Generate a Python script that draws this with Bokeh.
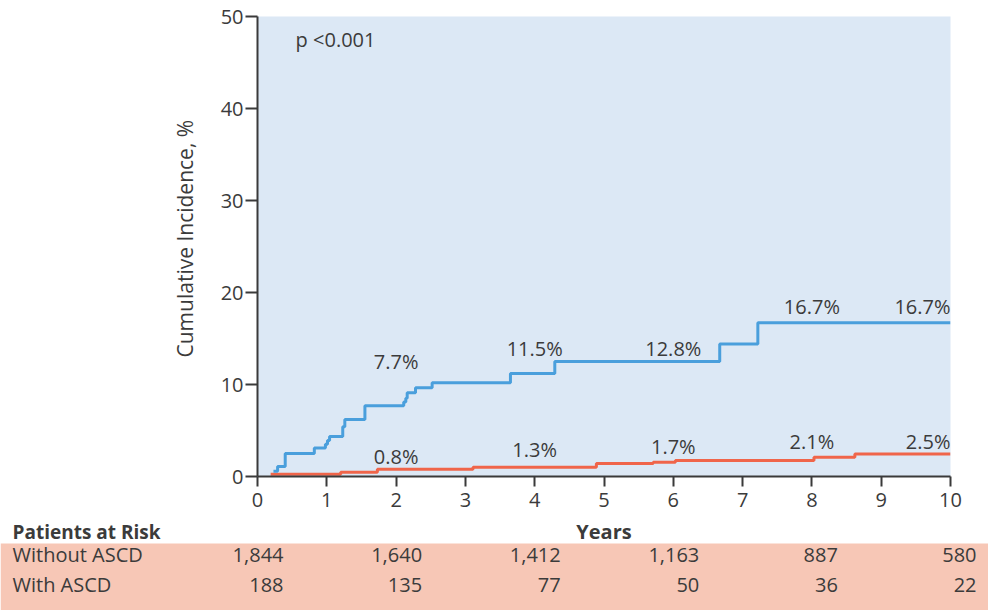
from bokeh.plotting import figure
from bokeh.models import Range1d, Label, ColumnDataSource, FixedTicker, Title, BoxAnnotation
from bokeh.layouts import column
from bokeh.embed import file_html
from bokeh.resources import INLINE
from bokeh.core.properties import value

# ---------------- data ----------------
# upper (blue) curve: step times (years) and cumulative incidence (%)
blue_years = [0.23, 0.29, 0.40, 0.82, 0.98, 1.01, 1.04, 1.23, 1.26, 1.55, 2.11, 2.14,
              2.16, 2.28, 2.52, 3.65, 4.29, 6.67, 7.22, 10.0]
blue_inc = [0.57, 1.1, 2.5, 3.1, 3.5, 3.9, 4.35, 5.4, 6.2, 7.7, 8.1, 8.5,
            9.1, 9.65, 10.2, 11.2, 12.5, 14.4, 16.7, 16.7]

# lower (red) curve
red_years = [0.19, 1.20, 1.73, 3.11, 4.89, 5.71, 6.03, 8.03, 8.62, 10.0]
red_inc = [0.25, 0.45, 0.8, 1.0, 1.4, 1.55, 1.75, 2.1, 2.45, 2.45]

# annotated values
label_years = [2, 4, 6, 8, 10]
blue_labels = ["7.7%", "11.5%", "12.8%", "16.7%", "16.7%"]
red_labels = ["0.8%", "1.3%", "1.7%", "2.1%", "2.5%"]

# axis ticks
x_ticks = [0, 1, 2, 3, 4, 5, 6, 7, 8, 9, 10]
y_ticks = [0, 10, 20, 30, 40, 50]

# patients at risk
risk_years = [0, 2, 4, 6, 8, 10]
risk_groups = ["Without ASCD", "With ASCD"]
risk_without = [1844, 1640, 1412, 1163, 887, 580]
risk_with = [188, 135, 77, 50, 36, 22]

p_text = "p <0.001"
y_title = "Cumulative Incidence, %"
x_title = "Years"
table_title = "Patients at Risk"

# ---------------- layout / style ----------------
FONT = "Open Sans"
TXT = "#3b3b3b"
AX = "#3a3a3a"
BLUE = "#4a9fdc"
RED = "#f0654a"
BG = "#dce8f5"
SALMON = "#f7c7b6"

W, H = 988, 610
LEFT, RIGHT = 257, 38
FRAME_W = W - LEFT - RIGHT
PX = FRAME_W / 10.0
FIX = -6  # baseline correction (px)

# label anchor heights (layout only)
blue_label_y = [11.8, 13.3, 13.3, 17.8, 17.8]
red_label_y = [1.5, 2.3, 2.6, 3.1, 3.1]

MAIN_H = 514
p = figure(width=W, height=MAIN_H, x_range=Range1d(0, 10), y_range=Range1d(0, 50),
           output_backend="svg", toolbar_location=None,
           min_border_left=LEFT, min_border_right=RIGHT,
           min_border_top=16, min_border_bottom=MAIN_H - 16 - 460)
p.frame_align = False
p.background_fill_color = BG
p.border_fill_color = "white"
p.outline_line_color = None
p.grid.visible = False

p.xaxis.ticker = FixedTicker(ticks=x_ticks)
p.yaxis.ticker = FixedTicker(ticks=y_ticks)
for ax in (p.xaxis[0], p.yaxis[0]):
    ax.axis_line_color = AX
    ax.axis_line_width = 2
    ax.major_tick_line_color = AX
    ax.major_tick_line_width = 2
    ax.major_tick_in = 0
    ax.minor_tick_line_color = None
    ax.major_label_text_font = FONT
    ax.major_label_text_font_size = "20px"
    ax.major_label_text_color = TXT
p.xaxis.major_tick_out = 10
p.yaxis.major_tick_out = 12
p.xaxis.major_label_standoff = 6
p.yaxis.major_label_standoff = 2

# title starts 119 px above the frame bottom, like the reference
p.add_layout(Title(text=y_title, align="left", offset=119, standoff=38,
                   text_font=FONT, text_font_size="21px", text_font_style="normal",
                   text_color=TXT), "left")

p.step(x=red_years, y=red_inc, mode="after", line_color=RED, line_width=3)
p.step(x=blue_years, y=blue_inc, mode="after", line_color=BLUE, line_width=3)

common = dict(text_font=value(FONT), text_font_size="20px", text_color=TXT,
              text_baseline="alphabetic", y_offset=FIX)
p.text(x=label_years[:4], y=blue_label_y[:4], text=blue_labels[:4], text_align="center", **common)
p.text(x=label_years[4:], y=blue_label_y[4:], text=blue_labels[4:], text_align="right", **common)
p.text(x=label_years[:4], y=red_label_y[:4], text=red_labels[:4], text_align="center", **common)
p.text(x=label_years[4:], y=red_label_y[4:], text=red_labels[4:], text_align="right", **common)

p.add_layout(Label(x=0.55, y=46.5, y_offset=9, text=p_text, text_font=FONT,
                   text_font_size="20px", text_color=TXT, text_baseline="alphabetic"))

# ---------------- header + risk table ----------------
X0 = -LEFT / PX
X1 = 10 + RIGHT / PX
TH = H - MAIN_H          # table figure height (px)
PITCH = 30               # row pitch (px)
ROW0 = 560 - MAIN_H      # first row baseline from table top (px)
y_top = -ROW0 / PITCH
y_bot = y_top + TH / PITCH
band_top = (543 - 560) / PITCH
head_y = (537 - 560) / PITCH

t = figure(width=W, height=TH, x_range=Range1d(X0, X1), y_range=Range1d(y_bot, y_top),
           output_backend="svg", toolbar_location=None, x_axis_type=None, y_axis_type=None,
           min_border=0)
t.frame_align = False
t.outline_line_color = None
t.grid.visible = False
t.background_fill_color = "white"
t.border_fill_color = "white"
t.add_layout(BoxAnnotation(top=band_top, bottom=y_bot, fill_color=SALMON, fill_alpha=1,
                           line_color=None, level="underlay"))

t.text(x=[X0], y=[head_y], text=[table_title], x_offset=12, y_offset=FIX,
       text_font=value(FONT), text_font_size="19px", text_font_style="bold",
       text_color=TXT, text_baseline="alphabetic", text_align="left")
t.text(x=[5], y=[head_y], text=[x_title], y_offset=FIX,
       text_font=value(FONT), text_font_size="20px", text_font_style="bold",
       text_color=TXT, text_baseline="alphabetic", text_align="center")

xs, ys, txt = [], [], []
for yr, a, b in zip(risk_years, risk_without, risk_with):
    xs += [yr, yr]
    ys += [0, 1]
    txt += [f"{a:,}", f"{b:,}"]
src = ColumnDataSource(dict(x=xs, y=ys, text=txt))
t.text(x="x", y="y", text="text", source=src, x_offset=26, y_offset=FIX,
       text_align="right", text_baseline="alphabetic",
       text_font=value(FONT), text_font_size="20px", text_color=TXT)
t.text(x=[X0, X0], y=[0, 1], text=risk_groups, x_offset=12, y_offset=FIX,
       text_align="left", text_baseline="alphabetic",
       text_font=value(FONT), text_font_size="20px", text_color=TXT)

layout = column(p, t, spacing=0)
open("out.html", "w").write(file_html(layout, INLINE))
